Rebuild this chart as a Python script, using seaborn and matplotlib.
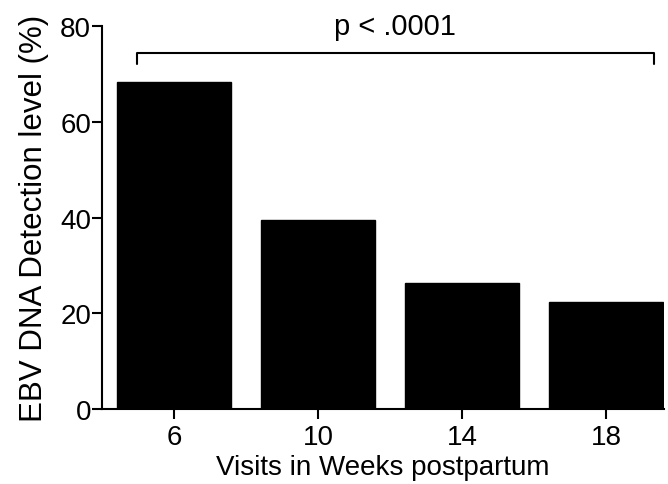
import matplotlib
matplotlib.use("Agg")
import matplotlib.pyplot as plt
import seaborn as sns
import pandas as pd

weeks = ["6", "10", "14", "18"]
detection = [68.4, 39.4, 26.4, 22.4]
p_text = "p < .0001"

sns.set_theme(style="ticks")
plt.rcParams['font.family'] = ['Liberation Sans', 'DejaVu Sans']
plt.rcParams['text.color'] = 'black'
plt.rcParams['axes.labelcolor'] = 'black'
plt.rcParams['xtick.color'] = 'black'
plt.rcParams['ytick.color'] = 'black'

df = pd.DataFrame({"week": weeks, "value": detection})

fig = plt.figure(figsize=(6.68, 4.85), dpi=100)
ax = fig.add_axes([0.153, 0.1546, 0.841, 0.7895])
sns.barplot(data=df, x="week", y="value", color="black", width=0.79,
            edgecolor="black", saturation=1, ax=ax)

ax.set_ylim(0, 80)
ax.set_xlim(-0.5, 3.4)
ax.set_yticks([0, 20, 40, 60, 80])
ax.set_xlabel("Visits in Weeks postpartum", fontsize=20, labelpad=3)
ax.set_ylabel("EBV DNA Detection level (%)", fontsize=22.5, labelpad=8)
ax.tick_params(axis='y', labelsize=20, width=1.5, length=7, pad=1)
ax.tick_params(axis='x', labelsize=20, width=1.5, length=7, pad=4)
for s in ["top", "right"]:
    ax.spines[s].set_visible(False)
for s in ["left", "bottom"]:
    ax.spines[s].set_linewidth(1.5)
    ax.spines[s].set_color("black")

# significance bracket
x0, x1, yt = -0.26, 3.33, 74.4
ax.plot([x0, x0, x1, x1], [yt - 2.4, yt, yt, yt - 2.4], color="black", lw=1.5, clip_on=False)
ax.text((x0 + x1) / 2, 78.3, p_text, ha="center", va="baseline", fontsize=21)

fig.savefig("out.png", dpi=100)
